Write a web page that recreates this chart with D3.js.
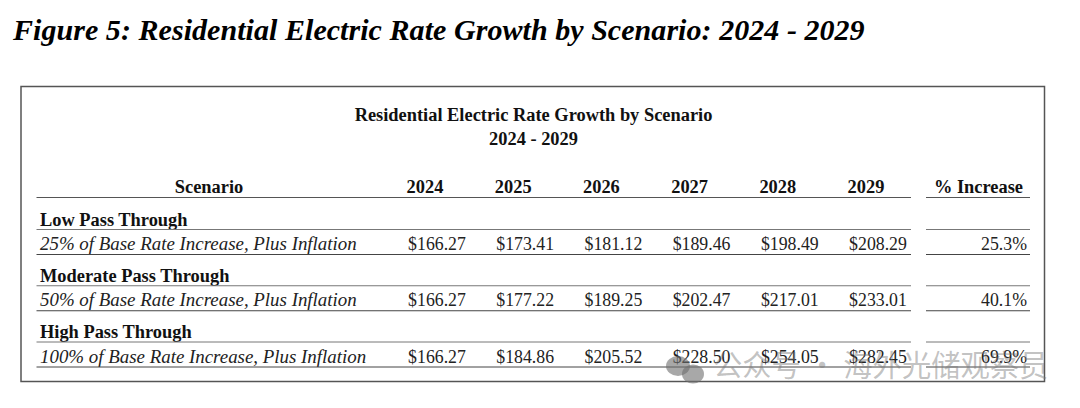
<!DOCTYPE html>
<html><head><meta charset="utf-8">
<script src="https://cdn.jsdelivr.net/npm/d3@7"></script>
<style>html,body{margin:0;padding:0;background:#fff}svg{display:block}</style>
</head><body><svg id="c" width="1080" height="408"></svg>
<script>
const figureTitle = "Figure 5: Residential Electric Rate Growth by Scenario: 2024 - 2029";
const tableTitle = "Residential Electric Rate Growth by Scenario";
const tableSubtitle = "2024 - 2029";
const scenarioHeader = "Scenario";
const years = ["2024","2025","2026","2027","2028","2029"];
const increaseHeader = "% Increase";
const scenarios = ["Low Pass Through","Moderate Pass Through","High Pass Through"];
const descriptions = ["25% of Base Rate Increase, Plus Inflation","50% of Base Rate Increase, Plus Inflation","100% of Base Rate Increase, Plus Inflation"];
const lowValues = [166.27,173.41,181.12,189.46,198.49,208.29];
const moderateValues = [166.27,177.22,189.25,202.47,217.01,233.01];
const highValues = [166.27,184.86,205.52,228.50,254.05,282.45];
const increases = ["25.3%","40.1%","69.9%"];
const watermark = "公众号 · 海外光储观察员";

const allValues = [lowValues, moderateValues, highValues];
const svg = d3.select("#c");
const serif = "'Liberation Serif','Times New Roman',serif";
const x = d3.scalePoint().domain(years).range([425.5, 866.5]);
const rowY = d3.scalePoint().domain(scenarios).range([0, 112.5]);
const text = (s,px,py,size,o={}) => svg.append("text").attr("x",px).attr("y",py).attr("font-family",o.family||serif)
  .attr("font-size",size).attr("font-weight",o.bold?"bold":"normal").attr("font-style",o.italic?"italic":"normal")
  .attr("text-anchor",o.anchor||"start").attr("fill",o.fill||"#111").style("letter-spacing",o.ls||null).text(s);
const line = (x1,x2,y,c="#555",w=1)=>svg.append("line").attr("x1",x1).attr("x2",x2).attr("y1",y).attr("y2",y).attr("stroke",c).attr("stroke-width",w);

text(figureTitle,13,39.5,30,{bold:true,italic:true,fill:"#000",ls:"0.05px"});
svg.append("rect").attr("x",21).attr("y",86.5).attr("width",1023.5).attr("height",295).attr("fill","none").attr("stroke","#555").attr("stroke-width",1.5);

const hs=18.4, vs=17.8, ds=18.9;
text(tableTitle,533.5,121,hs,{bold:true,anchor:"middle"});
text(tableSubtitle,533.5,145,hs,{bold:true,anchor:"middle"});
text(scenarioHeader,209,193,hs,{bold:true,anchor:"middle"});
svg.append("g").selectAll("text").data(years).join("text")
  .attr("x",d=>x(d)-0.5).attr("y",193).attr("text-anchor","middle").attr("font-family",serif)
  .attr("font-size",hs).attr("font-weight","bold").attr("fill","#111").text(d=>d);
text(increaseHeader,978.5,193,hs,{bold:true,anchor:"middle"});
const L=36.5, M=911, R1=926, R2=1030;
line(L,M,197.5); line(R1,R2,197.5);
scenarios.forEach((s,i)=>{
  const d=rowY(s);
  text(s,40,225.5+d,hs,{bold:true});
  line(L,M,229.5+d,"#777"); line(R1,R2,229.5+d,"#777");
  text(descriptions[i],40,250+d,ds,{italic:true,fill:"#222"});
  svg.append("g").selectAll("text").data(allValues[i]).join("text")
    .attr("x",(v,j)=>x(years[j])+11.5).attr("y",250+d).attr("text-anchor","middle").attr("font-family",serif)
    .attr("font-size",vs).attr("fill","#222").text(v=>"$"+v.toFixed(2));
  text(increases[i],1027,250+d,vs,{anchor:"end",fill:"#222"});
  line(L,M,254.5+d,"#444"); line(R1,R2,254.5+d,"#444");
});
text(watermark,713,376,29.3,{family:"'Noto Sans CJK SC',sans-serif",fill:"rgba(120,120,120,0.45)"});
const w=svg.append("g").attr("fill","rgba(110,110,110,0.6)");
w.append("ellipse").attr("cx",678).attr("cy",366).attr("rx",12).attr("ry",10);
w.append("ellipse").attr("cx",693).attr("cy",374).attr("rx",11).attr("ry",9.5);
</script></body></html>
